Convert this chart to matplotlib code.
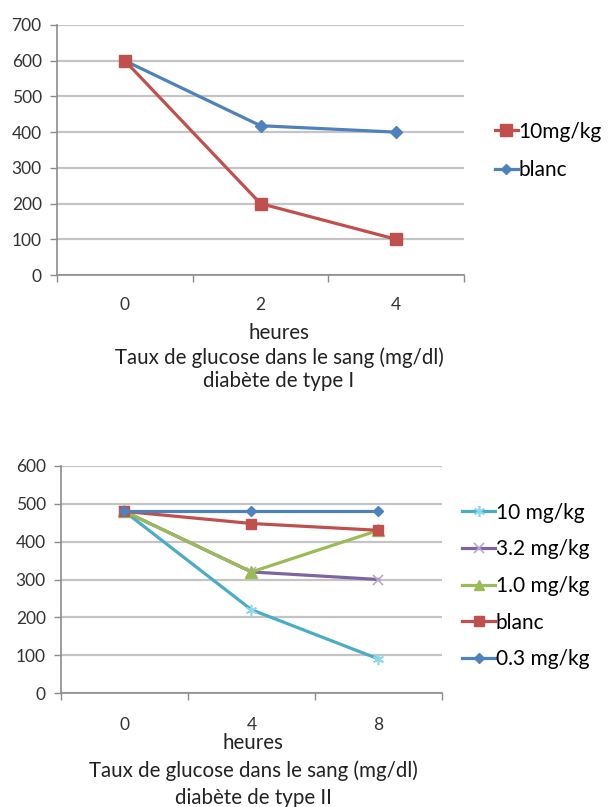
import matplotlib
matplotlib.use("Agg")
import matplotlib.pyplot as plt
from matplotlib.lines import Line2D

plt.rcParams['font.family'] = ['Lato', 'DejaVu Sans']

# --- chart 1: diabète de type I ---
hours_1 = ["0", "2", "4"]
dose10_1 = [600, 200, 100]
blanc_1 = [600, 418, 400]

# --- chart 2: diabète de type II ---
hours_2 = ["0", "4", "8"]
dose10_2 = [480, 220, 90]
dose32_2 = [480, 320, 300]
dose10b_2 = [480, 320, 430]
blanc_2 = [480, 448, 430]
dose03_2 = [480, 480, 480]

BLUE, RED, GREEN, PURPLE, CYAN = "#4F81BD", "#C0504D", "#9BBB59", "#8064A2", "#4BACC6"
GRID, AXIS = "#c4c4c4", "#8c8c8c"
TXT = "#222222"
FS_TICK, FS_TITLE, FS_LEG = 12.5, 14.8, 15

W, H = 611, 807
fig = plt.figure(figsize=(W / 100, H / 100), dpi=100)


def px_axes(x0, y_top, x1, y_bot):
    return fig.add_axes([x0 / W, 1 - y_bot / H, (x1 - x0) / W, (y_bot - y_top) / H])


def style(ax, ymax, labels, xpad):
    ax.set_xlim(-0.5, len(labels) - 0.5)
    ax.set_ylim(0, ymax)
    ax.set_yticks(range(0, ymax + 1, 100))
    ax.set_xticks(range(len(labels)))
    ax.set_xticklabels(labels)
    ax.set_xticks([i - 0.5 for i in range(len(labels) + 1)], minor=True)
    ax.tick_params(axis="x", which="major", length=0, pad=xpad, labelsize=FS_TICK, colors="#333333")
    ax.tick_params(axis="x", which="minor", length=5, width=1, color=AXIS, direction="out")
    ax.tick_params(axis="y", length=5, width=1, color=AXIS, labelsize=FS_TICK, pad=6,
                   labelcolor="#333333")
    ax.grid(axis="y", color=GRID, lw=1.6)
    ax.set_axisbelow(True)
    for s in ("top", "right"):
        ax.spines[s].set_visible(False)
    for s in ("left", "bottom"):
        ax.spines[s].set_color(AXIS)
        ax.spines[s].set_linewidth(1.2)


def titles(xc, ys, lines):
    for y, s in zip(ys, lines):
        fig.text(xc / W, 1 - y / H, s, ha="center", va="center", fontsize=FS_TITLE, color=TXT)


# top chart
ax1 = px_axes(57, 25, 464, 275)
x1 = range(len(hours_1))
ax1.plot(x1, blanc_1, color=BLUE, lw=2.3, marker="D", ms=6, mfc=BLUE, mec=BLUE)
ax1.plot(x1, dose10_1, color=RED, lw=2.3, marker="s", ms=8.5, mfc=RED, mec=RED)
style(ax1, 700, hours_1, 16)
h1 = [Line2D([], [], color=RED, lw=2.3, marker="s", ms=8.5),
      Line2D([], [], color=BLUE, lw=2.3, marker="D", ms=5)]
ax1.legend(h1, ["10mg/kg", "blanc"], loc="center left", bbox_to_anchor=(495 / W, 1 - 151 / H),
           bbox_transform=fig.transFigure, frameon=False, fontsize=FS_LEG, handlelength=1.1,
           handletextpad=0.02, labelspacing=0.9, borderpad=0, borderaxespad=0)
titles(279, [333, 358, 381], ["heures", "Taux de glucose dans le sang (mg/dl)",
                               "diabète de type I"])

# bottom chart
ax2 = px_axes(61, 466, 442, 693)
x2 = range(len(hours_2))
ax2.plot(x2, dose10_2, color=CYAN, lw=2.3, marker=(6, 2, 0), ms=8, mec="#8fd8ea", mew=1.2)
ax2.plot(x2, dose32_2, color=PURPLE, lw=2.3, marker="x", ms=7, mec="#b9a7d4", mew=1.2)
ax2.plot(x2, dose10b_2, color=GREEN, lw=2.3, marker="^", ms=8, mfc=GREEN, mec=GREEN)
ax2.plot(x2, blanc_2, color=RED, lw=2.3, marker="s", ms=7.5, mfc=RED, mec=RED)
ax2.plot(x2, dose03_2, color=BLUE, lw=2.3, marker="D", ms=5, mfc=BLUE, mec=BLUE)
style(ax2, 600, hours_2, 17)
h2 = [Line2D([], [], color=CYAN, lw=2.3, marker=(6, 2, 0), ms=8, mec="#8fd8ea", mew=1.2),
      Line2D([], [], color=PURPLE, lw=2.3, marker="x", ms=7, mec="#b9a7d4", mew=1.2),
      Line2D([], [], color=GREEN, lw=2.3, marker="^", ms=7),
      Line2D([], [], color=RED, lw=2.3, marker="s", ms=7.5),
      Line2D([], [], color=BLUE, lw=2.3, marker="D", ms=5)]
ax2.legend(h2, ["10 mg/kg", "3.2 mg/kg", "1.0 mg/kg", "blanc", "0.3 mg/kg"], loc="center left",
           bbox_to_anchor=(462 / W, 1 - 586 / H), bbox_transform=fig.transFigure, frameon=False,
           fontsize=FS_LEG, handlelength=1.6, handletextpad=0.02, labelspacing=0.8,
           borderpad=0, borderaxespad=0)
titles(253, [743, 771, 798], ["heures", "Taux de glucose dans le sang (mg/dl)",
                               "diabète de type II"])

fig.savefig("out.png", dpi=100)
